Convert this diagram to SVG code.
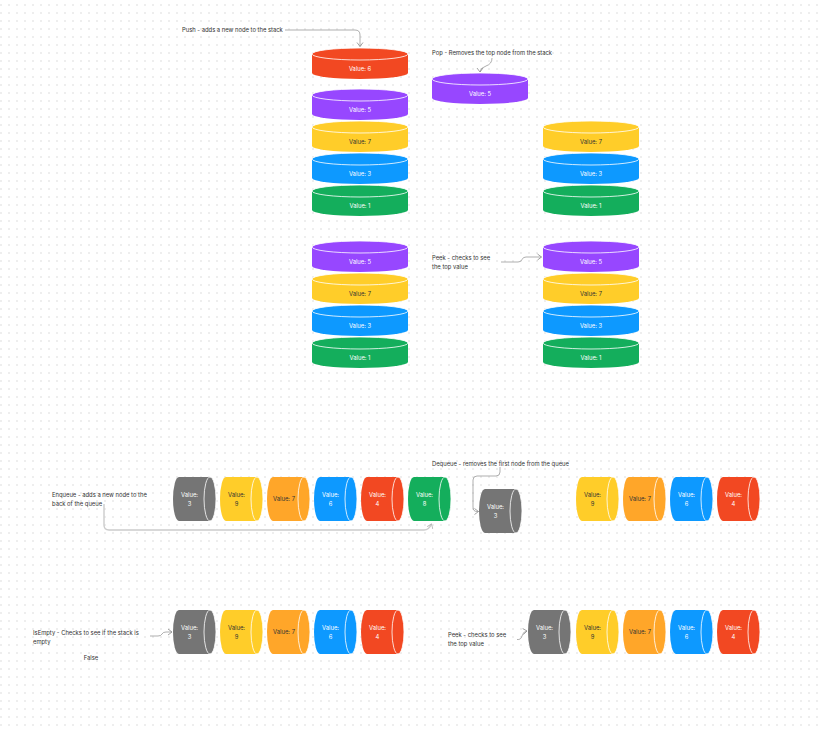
<svg xmlns="http://www.w3.org/2000/svg" width="822" height="729" viewBox="0 0 822 729">
  <defs>
    <pattern id="dots" x="0" y="0" width="8" height="8" patternUnits="userSpaceOnUse">
      <circle cx="1" cy="5" r="0.9" fill="#e6e6e6"/>
    </pattern>
    <marker id="chev" viewBox="0 0 6 8" refX="5" refY="4" markerWidth="6" markerHeight="8" markerUnits="userSpaceOnUse" orient="auto">
      <path d="M1,1 L5,4 L1,7" fill="none" stroke="#8c8c8c" stroke-width="0.8"/>
    </marker>
    <marker id="chevLight" viewBox="0 0 6 8" refX="5" refY="4" markerWidth="6" markerHeight="8" markerUnits="userSpaceOnUse" orient="auto">
      <path d="M1,1 L5,4 L1,7" fill="none" stroke="#b8b8b8" stroke-width="0.9"/>
    </marker>
    <!-- upright cylinder 96 x 31 -->
    <path id="disk" d="M0,6 A48,6 0 0 1 96,6 V25 A48,6 0 0 1 0,25 Z"/>
    <!-- cylinder lying on its side 43 x 44 -->
    <path id="drum" d="M6,0 H37 A6,22 0 0 1 37,44 H6 A6,22 0 0 1 6,0 Z"/>
  </defs>
  <style>
    text { font-family: Inter, "Liberation Sans", Arial, sans-serif; font-size: 5.85px; }
    .note { fill: #333333; }
    .val { text-anchor: middle; fill: #ffffff; }
    .dark .val { fill: #333333; }
    .rim { fill: none; stroke: #ffffff; stroke-width: 0.8; }
    .red { fill: #f24822; }
    .purple { fill: #9747ff; }
    .yellow { fill: #ffcd29; }
    .blue { fill: #0d99ff; }
    .green { fill: #14ae5c; }
    .gray { fill: #757575; }
    .orange { fill: #ffa629; }
    .link { fill: none; stroke: #8c8c8c; stroke-width: 0.7; }
    .link-wide { fill: none; stroke: #cccccc; stroke-width: 1.4; }
  </style>

  <rect width="822" height="729" fill="#ffffff"/>
  <rect width="822" height="729" fill="url(#dots)"/>

  <!-- notes -->
  <g id="notes">
    <text class="note" x="182" y="32">Push - adds a new node to the stack</text>
    <text class="note" x="432" y="55">Pop - Removes the top node from the stack</text>
    <text class="note" x="432" y="260">Peek - checks to see</text>
    <text class="note" x="432" y="269">the top value</text>
    <text class="note" x="432" y="465.5">Dequeue - removes the first node from the queue</text>
    <text class="note" x="52" y="496.5">Enqueue - adds a new node to the</text>
    <text class="note" x="52" y="505.5">back of the queue</text>
    <text class="note" x="33" y="635">IsEmpty - Checks to see if the stack is</text>
    <text class="note" x="33" y="644">empty</text>
    <text class="note" x="91" y="660" text-anchor="middle">False</text>
    <text class="note" x="448" y="636.5">Peek - checks to see</text>
    <text class="note" x="448" y="645.5">the top value</text>
  </g>

  <!-- connectors -->
  <g id="connectors">
    <path class="link" d="M285,30 H355 Q360,30 360,35 V46.5" marker-end="url(#chev)"/>
    <path class="link" d="M492,58 Q492,64 486,66 Q480,68 480,72" marker-end="url(#chev)"/>
    <path class="link" d="M501,262 H518 Q521,262 522,259.5 Q523,257 526,257 H541.5" marker-end="url(#chev)"/>
    <path class="link" d="M500,467 V472 Q500,476 496,476 H477 Q473,476 473,480 V507 Q473,511.5 477,511.5 H478.5" marker-end="url(#chev)"/>
    <path class="link-wide" d="M104,504 V525 Q104,530 109,530 H424 Q429,530 431.5,524" marker-end="url(#chevLight)"/>
    <path class="link" d="M150,636 H158 Q161,636 162,634 Q163,632 166,632 H172" marker-end="url(#chev)"/>
    <path class="link" d="M517,639.5 Q521,640 522,636 Q523,631.5 527,631" marker-end="url(#chev)"/>
  </g>

  <!-- stack: push -->
  <g id="push-6" transform="translate(312,48)"><use href="#disk" class="red"/><ellipse class="rim" cx="48" cy="6" rx="48" ry="6"/><text class="val" x="48" y="23">Value: 6</text></g>
  <g id="push-5" transform="translate(312,89)"><use href="#disk" class="purple"/><ellipse class="rim" cx="48" cy="6" rx="48" ry="6"/><text class="val" x="48" y="23">Value: 5</text></g>
  <g id="push-7" class="dark" transform="translate(312,121)"><use href="#disk" class="yellow"/><ellipse class="rim" cx="48" cy="6" rx="48" ry="6"/><text class="val" x="48" y="23">Value: 7</text></g>
  <g id="push-3" transform="translate(312,153)"><use href="#disk" class="blue"/><ellipse class="rim" cx="48" cy="6" rx="48" ry="6"/><text class="val" x="48" y="23">Value: 3</text></g>
  <g id="push-1" transform="translate(312,185)"><use href="#disk" class="green"/><ellipse class="rim" cx="48" cy="6" rx="48" ry="6"/><text class="val" x="48" y="23">Value: 1</text></g>

  <!-- stack: pop -->
  <g id="pop-5" transform="translate(432,73)"><use href="#disk" class="purple"/><ellipse class="rim" cx="48" cy="6" rx="48" ry="6"/><text class="val" x="48" y="23">Value: 5</text></g>
  <g id="pop-7" class="dark" transform="translate(543,121)"><use href="#disk" class="yellow"/><ellipse class="rim" cx="48" cy="6" rx="48" ry="6"/><text class="val" x="48" y="23">Value: 7</text></g>
  <g id="pop-3" transform="translate(543,153)"><use href="#disk" class="blue"/><ellipse class="rim" cx="48" cy="6" rx="48" ry="6"/><text class="val" x="48" y="23">Value: 3</text></g>
  <g id="pop-1" transform="translate(543,185)"><use href="#disk" class="green"/><ellipse class="rim" cx="48" cy="6" rx="48" ry="6"/><text class="val" x="48" y="23">Value: 1</text></g>

  <!-- stack: peek, before -->
  <g id="peek-a-5" transform="translate(312,241)"><use href="#disk" class="purple"/><ellipse class="rim" cx="48" cy="6" rx="48" ry="6"/><text class="val" x="48" y="23">Value: 5</text></g>
  <g id="peek-a-7" class="dark" transform="translate(312,273)"><use href="#disk" class="yellow"/><ellipse class="rim" cx="48" cy="6" rx="48" ry="6"/><text class="val" x="48" y="23">Value: 7</text></g>
  <g id="peek-a-3" transform="translate(312,305)"><use href="#disk" class="blue"/><ellipse class="rim" cx="48" cy="6" rx="48" ry="6"/><text class="val" x="48" y="23">Value: 3</text></g>
  <g id="peek-a-1" transform="translate(312,337)"><use href="#disk" class="green"/><ellipse class="rim" cx="48" cy="6" rx="48" ry="6"/><text class="val" x="48" y="23">Value: 1</text></g>

  <!-- stack: peek, after -->
  <g id="peek-b-5" transform="translate(543,241)"><use href="#disk" class="purple"/><ellipse class="rim" cx="48" cy="6" rx="48" ry="6"/><text class="val" x="48" y="23">Value: 5</text></g>
  <g id="peek-b-7" class="dark" transform="translate(543,273)"><use href="#disk" class="yellow"/><ellipse class="rim" cx="48" cy="6" rx="48" ry="6"/><text class="val" x="48" y="23">Value: 7</text></g>
  <g id="peek-b-3" transform="translate(543,305)"><use href="#disk" class="blue"/><ellipse class="rim" cx="48" cy="6" rx="48" ry="6"/><text class="val" x="48" y="23">Value: 3</text></g>
  <g id="peek-b-1" transform="translate(543,337)"><use href="#disk" class="green"/><ellipse class="rim" cx="48" cy="6" rx="48" ry="6"/><text class="val" x="48" y="23">Value: 1</text></g>

  <!-- queue: enqueue -->
  <g id="enq-3" transform="translate(173,477)"><use href="#drum" class="gray"/><ellipse class="rim" cx="37" cy="22" rx="6" ry="22"/><text class="val" x="16.5" y="19.5">Value:</text><text class="val" x="16.5" y="28.5">3</text></g>
  <g id="enq-9" class="dark" transform="translate(220,477)"><use href="#drum" class="yellow"/><ellipse class="rim" cx="37" cy="22" rx="6" ry="22"/><text class="val" x="16.5" y="19.5">Value:</text><text class="val" x="16.5" y="28.5">9</text></g>
  <g id="enq-7" class="dark" transform="translate(267,477)"><use href="#drum" class="orange"/><ellipse class="rim" cx="37" cy="22" rx="6" ry="22"/><text class="val" x="17" y="24">Value: 7</text></g>
  <g id="enq-6" transform="translate(314,477)"><use href="#drum" class="blue"/><ellipse class="rim" cx="37" cy="22" rx="6" ry="22"/><text class="val" x="16.5" y="19.5">Value:</text><text class="val" x="16.5" y="28.5">6</text></g>
  <g id="enq-4" transform="translate(361,477)"><use href="#drum" class="red"/><ellipse class="rim" cx="37" cy="22" rx="6" ry="22"/><text class="val" x="16.5" y="19.5">Value:</text><text class="val" x="16.5" y="28.5">4</text></g>
  <g id="enq-8" transform="translate(408,477)"><use href="#drum" class="green"/><ellipse class="rim" cx="37" cy="22" rx="6" ry="22"/><text class="val" x="16.5" y="19.5">Value:</text><text class="val" x="16.5" y="28.5">8</text></g>

  <!-- queue: dequeue -->
  <g id="deq-3" transform="translate(479,489)"><use href="#drum" class="gray"/><ellipse class="rim" cx="37" cy="22" rx="6" ry="22"/><text class="val" x="16.5" y="19.5">Value:</text><text class="val" x="16.5" y="28.5">3</text></g>
  <g id="deq-9" class="dark" transform="translate(576,477)"><use href="#drum" class="yellow"/><ellipse class="rim" cx="37" cy="22" rx="6" ry="22"/><text class="val" x="16.5" y="19.5">Value:</text><text class="val" x="16.5" y="28.5">9</text></g>
  <g id="deq-7" class="dark" transform="translate(623,477)"><use href="#drum" class="orange"/><ellipse class="rim" cx="37" cy="22" rx="6" ry="22"/><text class="val" x="17" y="24">Value: 7</text></g>
  <g id="deq-6" transform="translate(670,477)"><use href="#drum" class="blue"/><ellipse class="rim" cx="37" cy="22" rx="6" ry="22"/><text class="val" x="16.5" y="19.5">Value:</text><text class="val" x="16.5" y="28.5">6</text></g>
  <g id="deq-4" transform="translate(717,477)"><use href="#drum" class="red"/><ellipse class="rim" cx="37" cy="22" rx="6" ry="22"/><text class="val" x="16.5" y="19.5">Value:</text><text class="val" x="16.5" y="28.5">4</text></g>

  <!-- queue: isEmpty -->
  <g id="empty-3" transform="translate(173,610)"><use href="#drum" class="gray"/><ellipse class="rim" cx="37" cy="22" rx="6" ry="22"/><text class="val" x="16.5" y="19.5">Value:</text><text class="val" x="16.5" y="28.5">3</text></g>
  <g id="empty-9" class="dark" transform="translate(220,610)"><use href="#drum" class="yellow"/><ellipse class="rim" cx="37" cy="22" rx="6" ry="22"/><text class="val" x="16.5" y="19.5">Value:</text><text class="val" x="16.5" y="28.5">9</text></g>
  <g id="empty-7" class="dark" transform="translate(267,610)"><use href="#drum" class="orange"/><ellipse class="rim" cx="37" cy="22" rx="6" ry="22"/><text class="val" x="17" y="24">Value: 7</text></g>
  <g id="empty-6" transform="translate(314,610)"><use href="#drum" class="blue"/><ellipse class="rim" cx="37" cy="22" rx="6" ry="22"/><text class="val" x="16.5" y="19.5">Value:</text><text class="val" x="16.5" y="28.5">6</text></g>
  <g id="empty-4" transform="translate(361,610)"><use href="#drum" class="red"/><ellipse class="rim" cx="37" cy="22" rx="6" ry="22"/><text class="val" x="16.5" y="19.5">Value:</text><text class="val" x="16.5" y="28.5">4</text></g>

  <!-- queue: peek -->
  <g id="qpeek-3" transform="translate(528,610)"><use href="#drum" class="gray"/><ellipse class="rim" cx="37" cy="22" rx="6" ry="22"/><text class="val" x="16.5" y="19.5">Value:</text><text class="val" x="16.5" y="28.5">3</text></g>
  <g id="qpeek-9" class="dark" transform="translate(576,610)"><use href="#drum" class="yellow"/><ellipse class="rim" cx="37" cy="22" rx="6" ry="22"/><text class="val" x="16.5" y="19.5">Value:</text><text class="val" x="16.5" y="28.5">9</text></g>
  <g id="qpeek-7" class="dark" transform="translate(623,610)"><use href="#drum" class="orange"/><ellipse class="rim" cx="37" cy="22" rx="6" ry="22"/><text class="val" x="17" y="24">Value: 7</text></g>
  <g id="qpeek-6" transform="translate(670,610)"><use href="#drum" class="blue"/><ellipse class="rim" cx="37" cy="22" rx="6" ry="22"/><text class="val" x="16.5" y="19.5">Value:</text><text class="val" x="16.5" y="28.5">6</text></g>
  <g id="qpeek-4" transform="translate(717,610)"><use href="#drum" class="red"/><ellipse class="rim" cx="37" cy="22" rx="6" ry="22"/><text class="val" x="16.5" y="19.5">Value:</text><text class="val" x="16.5" y="28.5">4</text></g>
</svg>
